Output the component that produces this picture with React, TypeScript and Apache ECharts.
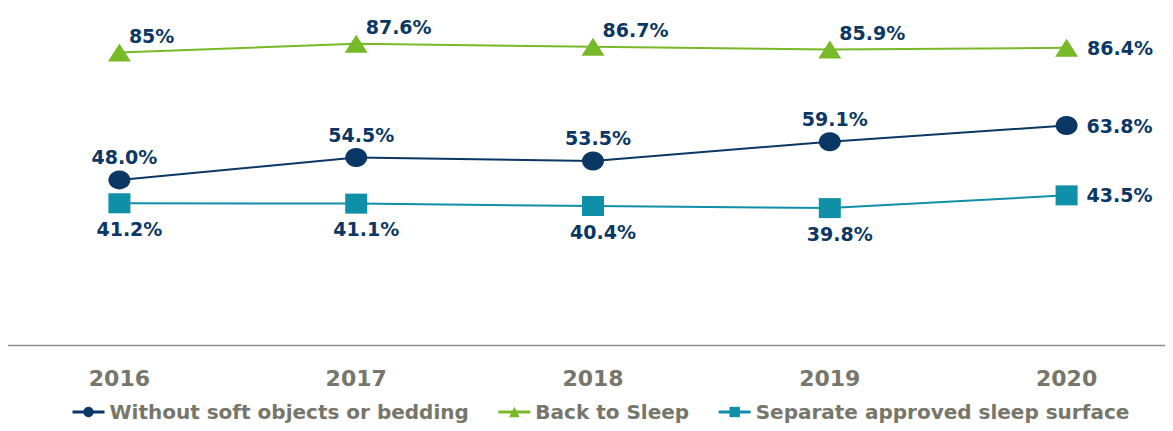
import React, { useEffect, useRef } from "react";
import * as echarts from "echarts";

const years = ["2016", "2017", "2018", "2019", "2020"];
const withoutSoftObjects = [48.0, 54.5, 53.5, 59.1, 63.8];
const backToSleep = [85, 87.6, 86.7, 85.9, 86.4];
const separateSurface = [41.2, 41.1, 40.4, 39.8, 43.5];
const seriesNames = [
  "Without soft objects or bedding",
  "Back to Sleep",
  "Separate approved sleep surface",
];

const NAVY = "#0b3764";
const GREEN = "#78b928";
const TEAL = "#0f8fa8";
const GRAY = "#76766b";
const FONT = "DejaVu Sans";

export default function App() {
  const ref = useRef<HTMLDivElement>(null);

  useEffect(() => {
    if (!ref.current) return;
    const chart = echarts.init(ref.current, undefined, { renderer: "svg" });

    const fmt = (digits: boolean) => (p: any) =>
      (digits ? Number(p.value).toFixed(1) : String(p.value)) + "%";

    const labelBase = {
      show: true,
      color: NAVY,
      fontFamily: FONT,
      fontWeight: "bold" as const,
      fontSize: 19,
    };

    const lastRight = (vals: number[]) =>
      vals.map((v, i) =>
        i === vals.length - 1
          ? { value: v, label: { position: "right", distance: 9, offset: [0, 0] } }
          : v
      );

    chart.setOption({
      animation: false,
      grid: {
        left: 1,
        right: -12,
        top: 1,
        bottom: 431 - 345,
        containLabel: false,
        outerBoundsMode: "none",
      },
      xAxis: {
        type: "category",
        data: years,
        boundaryGap: true,
        axisLine: { show: false },
        axisTick: { show: false },
        axisLabel: {
          margin: 22,
          color: GRAY,
          fontFamily: FONT,
          fontWeight: "bold",
          fontSize: 22,
        },
      },
      yAxis: {
        type: "value",
        min: 0,
        max: 100,
        show: false,
        splitLine: { show: false },
      },
      legend: {
        top: 402,
        left: 71,
        padding: 0,
        itemWidth: 32,
        itemHeight: 13,
        itemGap: 28,
        lineStyle: { width: 3 },
        textStyle: {
          color: GRAY,
          fontFamily: FONT,
          fontWeight: "bold",
          fontSize: 20,
        },
        data: seriesNames,
      },
      graphic: [
        {
          type: "line",
          shape: { x1: 6, y1: 345.5, x2: 1173, y2: 345.5 },
          style: { stroke: "#8e8e8e", lineWidth: 1.5 },
          silent: true,
        },
      ],
      series: [
        {
          name: seriesNames[0],
          type: "line",
          data: lastRight(withoutSoftObjects),
          symbol: "circle",
          symbolSize: [22, 19],
          lineStyle: { color: NAVY, width: 2 },
          itemStyle: { color: NAVY },
          label: {
            ...labelBase,
            position: "top",
            distance: 4,
            offset: [5, 0],
            formatter: fmt(true),
          },
          z: 3,
        },
        {
          name: seriesNames[1],
          type: "line",
          data: lastRight(backToSleep),
          symbol: "triangle",
          symbolSize: [23, 18],
          lineStyle: { color: GREEN, width: 2 },
          itemStyle: { color: GREEN },
          label: {
            ...labelBase,
            position: "right",
            distance: 0,
            offset: [-2, -17],
            formatter: fmt(false),
          },
          z: 2,
        },
        {
          name: seriesNames[2],
          type: "line",
          data: lastRight(separateSurface),
          symbol: "rect",
          symbolSize: [22, 20],
          lineStyle: { color: TEAL, width: 2 },
          itemStyle: { color: TEAL },
          label: {
            ...labelBase,
            position: "bottom",
            distance: 6,
            offset: [10, 0],
            formatter: fmt(true),
          },
          z: 2,
        },
      ],
    });

    return () => chart.dispose();
  }, []);

  return <div ref={ref} style={{ width: 1173, height: 431, margin: -8 }} />;
}
